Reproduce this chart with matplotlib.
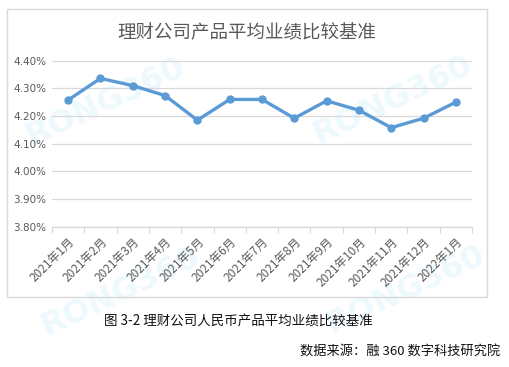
import matplotlib
matplotlib.use("Agg")
import matplotlib.pyplot as plt
from matplotlib.patches import Rectangle
import numpy as np

plt.rcParams['font.family'] = ['Noto Sans CJK SC', 'DejaVu Sans']

months = ["2021年1月", "2021年2月", "2021年3月", "2021年4月", "2021年5月", "2021年6月",
          "2021年7月", "2021年8月", "2021年9月", "2021年10月", "2021年11月", "2021年12月", "2022年1月"]
values = [4.258, 4.336, 4.310, 4.274, 4.185, 4.260, 4.260, 4.192, 4.255, 4.221, 4.158, 4.192, 4.250]
yticks = [3.80, 3.90, 4.00, 4.10, 4.20, 4.30, 4.40]

W, H = 509, 367
fig = plt.figure(figsize=(W/100, H/100), dpi=100)
fig.patch.set_facecolor("white")

# chart frame
frame = Rectangle((7/W, 1-297/H), (487-7)/W, (297-9)/H, transform=fig.transFigure,
                  fill=False, edgecolor="#D9D9D9", linewidth=1.0)
fig.add_artist(frame)

ax = fig.add_axes([52/W, 1-226.7/H, (472-52)/W, (226.7-60.7)/H])
ax.set_zorder(1)
x = np.arange(len(months))
ax.plot(x, values, color="#5B9BD5", linewidth=2.4, marker="o", markersize=5,
        markerfacecolor="#5B9BD5", markeredgecolor="#5B9BD5", zorder=3)
ax.set_xlim(-0.5, len(months)-0.5)
ax.set_ylim(3.80, 4.40)
ax.set_yticks(yticks)
ax.set_yticklabels([f"{v:.2f}%" for v in yticks], color="#595959", fontsize=7.5, family="DejaVu Sans")
ax.yaxis.grid(True, color="#D9D9D9", linewidth=0.9)
ax.set_axisbelow(True)
ax.tick_params(axis="y", length=0, pad=4)
ax.set_xticks(x)
ax.set_xticklabels(months, rotation=45, ha="right", rotation_mode="anchor",
                   color="#595959", fontsize=8.5)
ax.set_xticks(np.arange(-0.5, len(months)), minor=True)
ax.tick_params(axis="x", which="major", length=0, pad=6)
ax.tick_params(axis="x", which="minor", length=4, color="#D9D9D9", width=0.9)
for s in ["top", "right", "left"]:
    ax.spines[s].set_visible(False)
ax.spines["bottom"].set_color("#D9D9D9")
ax.spines["bottom"].set_linewidth(0.9)
ax.patch.set_alpha(0)

fig.text(247/W, 1-33/H, "理财公司产品平均业绩比较基准", ha="center", va="center",
         fontsize=13.3, color="#595959")

# watermarks
for (wx, wy) in [(105/W, 1-102/H), (392/W, 1-100/H), (120/W, 1-292/H), (405/W, 1-290/H)]:
    fig.text(wx, wy, "RONG360", ha="center", va="center", fontsize=23, rotation=25,
             color="#E3F6FC", alpha=0.6, fontweight="bold", family="DejaVu Sans", zorder=-1)

fig.text(238/W, 1-322/H, "图 3-2 理财公司人民币产品平均业绩比较基准", ha="center", va="center",
         fontsize=9.7, color="#111111")
fig.text(500/W, 1-352/H, "数据来源：融 360 数字科技研究院", ha="right", va="center",
         fontsize=9.5, color="#111111")

fig.savefig("out.png", dpi=100, facecolor="white")
